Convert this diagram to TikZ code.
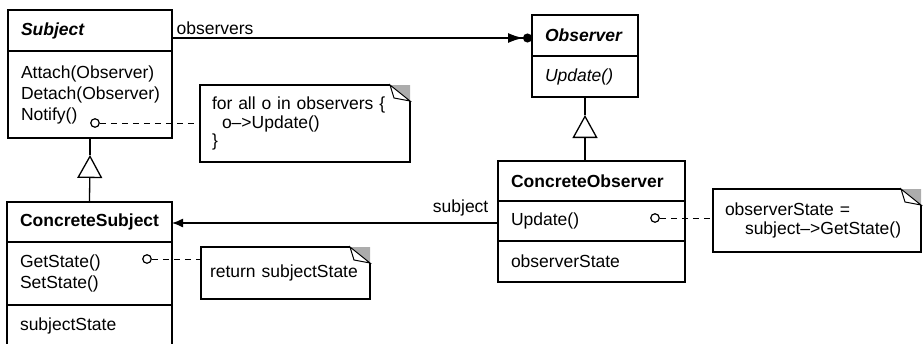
\documentclass[tikz,border=0pt]{standalone}
\usepackage{fontspec}
\setmainfont{Liberation Sans}
\usetikzlibrary{arrows.meta, positioning, calc}

\newcommand{\umlfont}{\fontsize{17.5}{21}\selectfont}
\newcommand{\notefont}{\fontsize{17.5}{18.5}\selectfont}

% note with folded corner, drawn round a named node
\newcommand{\noteoutline}[1]{%
  \fill[gray!65] ($(#1.north east)+(-20,0)$) -- (#1.north east) -- ($(#1.north east)+(0,16)$) -- cycle;
  \draw[link] ($(#1.north east)+(-20,0)$) -- (#1.north west) -- (#1.south west) -- (#1.south east) -- ($(#1.north east)+(0,16)$);
  \draw[line width=1pt, fill=white] ($(#1.north east)+(-20,0)$) -- ($(#1.north east)+(-16,13)$) -- ($(#1.north east)+(0,16)$) -- cycle;
}

\tikzset{
  link/.style={line width=1.3pt},
  classpart/.style={draw, line width=1.3pt, outer sep=0pt, inner xsep=13pt, inner ysep=0pt, align=left, font=\umlfont},
  classname/.style={classpart, font=\umlfont\bfseries},
  notebox/.style={anchor=north west, outer sep=0pt, inner xsep=12pt, inner ysep=0pt, align=left, font=\notefont},
  opdot/.style={circle, draw, line width=1.2pt, minimum size=8.5pt, inner sep=0pt, fill=white},
  notelink/.style={line width=1pt, dash pattern=on 6pt off 5pt},
  gentip/.style={-{Triangle[open, length=23pt, width=25pt, line width=1.3pt]}},
}

\begin{document}
\begin{tikzpicture}[x=1pt, y=-1pt]
  \useasboundingbox (0,0) rectangle (923,343);

  % Subject
  \node[classname, font=\umlfont\bfseries\itshape, anchor=north west, minimum width=164pt, text width=138pt, minimum height=41pt] (subjname) at (8,10) {Subject};
  \node[classpart, below=0pt of subjname, minimum width=164pt, text width=138pt, minimum height=87pt] (subjops) {Attach(Observer)\\Detach(Observer)\\Notify()};

  % Observer
  \node[classname, font=\umlfont\bfseries\itshape, anchor=north west, minimum width=106pt, text width=80pt, minimum height=41pt] (obsname) at (532,15) {Observer};
  \node[classpart, font=\umlfont\itshape, below=0pt of obsname, minimum width=106pt, text width=80pt, minimum height=41pt] (obsops) {Update()};

  % ConcreteSubject
  \node[classname, anchor=north west, minimum width=165pt, text width=139pt, minimum height=40pt] (csubjname) at (7,202) {ConcreteSubject};
  \node[classpart, below=0pt of csubjname, minimum width=165pt, text width=139pt, minimum height=63pt] (csubjops) {GetState()\\SetState()};
  \node[classpart, below=0pt of csubjops, minimum width=165pt, text width=139pt, minimum height=41pt] (csubjattr) {subjectState};

  % ConcreteObserver
  \node[classname, anchor=north west, minimum width=187pt, text width=161pt, minimum height=40pt] (cobsname) at (498,161) {ConcreteObserver};
  \node[classpart, below=0pt of cobsname, minimum width=187pt, text width=161pt, minimum height=40pt] (cobsops) {Update()};
  \node[classpart, below=0pt of cobsops, minimum width=187pt, text width=161pt, minimum height=41pt] (cobsattr) {observerState};

  % notes
  \node[notebox, minimum width=210pt, text width=186pt, minimum height=77pt] (fornote) at (200,85) {for all o in observers \{\\\hspace*{10pt}o\textendash>Update()\\\}};
  \node[notebox, inner xsep=9pt, minimum width=169pt, text width=151pt, minimum height=52pt] (retnote) at (201,247) {\mbox{return subjectState}};
  \node[notebox, minimum width=208pt, text width=184pt, minimum height=63pt] (statenote) at (713,189) {observerState =\\\hspace*{20pt}subject\textendash>GetState()};
  \noteoutline{fornote}
  \noteoutline{retnote}
  \noteoutline{statenote}

  % inheritance
  \coordinate (gensubj) at ($(subjops.south)+(0,17)$);
  \draw[link] (subjops.south) -- (gensubj);
  \draw[link, gentip] (csubjname.north) -- (gensubj);
  \coordinate (genobs) at ($(obsops.south)+(0,18)$);
  \draw[link] (obsops.south) -- (genobs);
  \draw[link, gentip] (cobsname.north -| obsops.south) -- (genobs);

  % associations
  \draw[link, -{Latex[length=15pt, width=10pt] Circle[length=9pt]}] ([yshift=-2.5pt]subjname.east |- obsname.west) -- node[pos=0, anchor=south west, inner xsep=4pt, inner ysep=3pt, font=\umlfont] (obslabel) {observers} ([yshift=-2.5pt]obsname.west);
  \draw[link, -{Latex[length=11pt, width=9pt]}] ([yshift=-2pt]cobsops.west) -- node[pos=0, anchor=south east, inner xsep=9pt, inner ysep=6pt, font=\umlfont] (subjlabel) {subject} ([yshift=-2pt]cobsops.west -| csubjname.east);

  % operation notes
  \node[opdot] (notifydot) at (95,123) {};
  \node[opdot] (getdot) at (147,259) {};
  \node[opdot] (updatedot) at (655,218) {};
  \draw[notelink] (notifydot) -- (notifydot -| fornote.west);
  \draw[notelink] (getdot) -- (getdot -| retnote.west);
  \draw[notelink] (updatedot) -- (updatedot -| statenote.west);
\end{tikzpicture}
\end{document}
